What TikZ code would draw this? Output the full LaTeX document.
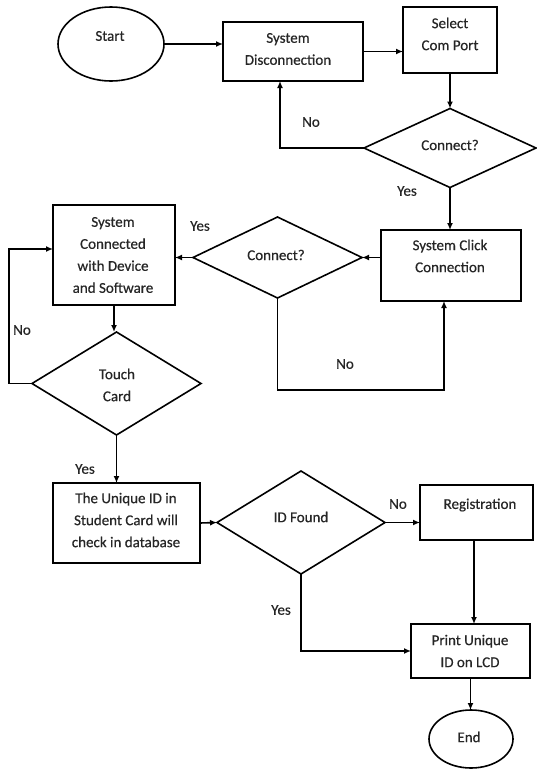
\documentclass[tikz,border=0pt]{standalone}
\usepackage{fontspec}
\setmainfont{Carlito}[FakeBold=0.5]
\usetikzlibrary{shapes.geometric,arrows.meta,calc}
\begin{document}
\begin{tikzpicture}[x=1pt,y=-1pt,
  every node/.style={font=\fontsize{15}{22}\selectfont},
  box/.style={draw, line width=1.6pt, rectangle, inner sep=0pt, outer sep=0pt},
  dia/.style={draw, line width=1.6pt, diamond, inner sep=0pt, outer sep=0pt},
  oval/.style={draw, line width=1.6pt, ellipse, inner sep=0pt, outer sep=0pt},
  txt/.style={align=center, inner sep=0pt, text=black!85},
  lab/.style={inner sep=0pt, text=black!85},
  conn/.style={line width=1.6pt, -{Latex[length=7pt,width=6pt]}}]
\useasboundingbox (0,0) rectangle (536,769);
% shapes
\node[oval, minimum width=106pt, minimum height=74pt] (start) at (111,44) {};
\node[box, minimum width=140pt, minimum height=59pt] (sd) at (293,51.5) {};
\node[box, minimum width=94pt, minimum height=66pt] (sel) at (450,40) {};
\node[dia, minimum width=172pt, minimum height=79pt] (d1) at (450,148) {};
\node[box, minimum width=140pt, minimum height=71pt] (sc) at (451,265.5) {};
\node[dia, minimum width=169pt, minimum height=81pt] (d2) at (277.5,257.5) {};
\node[box, minimum width=122pt, minimum height=100pt] (scon) at (114,255) {};
\node[dia, minimum width=169pt, minimum height=103pt] (touch) at (116.5,383.5) {};
\node[box, minimum width=147pt, minimum height=80pt] (id) at (126.5,523) {};
\node[dia, minimum width=168pt, minimum height=103pt] (d3) at (301,522.5) {};
\node[box, minimum width=113pt, minimum height=55pt] (reg) at (476.5,512.5) {};
\node[box, minimum width=119pt, minimum height=54pt] (print) at (470.5,651) {};
\node[oval, minimum width=84pt, minimum height=58pt] (end) at (471,739) {};
% texts
\node[txt] (start-t) at (110,36) {Start};
\node[txt] (sd-t) at (288,49) {System\\Disconnection};
\node[txt] (sel-t) at (450,34) {Select\\Com Port};
\node[txt] (d1-t) at (450,145) {Connect?};
\node[txt] (sc-t) at (450,256) {System Click\\Connection};
\node[txt] (d2-t) at (276,255) {Connect?};
\node[txt] (scon-t) at (113,255) {System\\Connected\\with Device\\and Software};
\node[txt] (touch-t) at (117,385) {Touch\\Card};
\node[txt] (id-t) at (126,520) {The Unique ID in\\Student Card will\\check in database};
\node[txt] (d3-t) at (301,517) {ID Found};
\node[txt] (reg-t) at (480,505) {Registration};
\node[txt] (print-t) at (470,651) {Print Unique\\ID on LCD};
\node[txt] (end-t) at (469,737) {End};
% labels
\node[lab] (l1) at (311,122) {No};
\node[lab] (l2) at (407,191) {Yes};
\node[lab] (l3) at (200,226) {Yes};
\node[lab] (l4) at (345,364) {No};
\node[lab] (l5) at (22,330) {No};
\node[lab] (l6) at (85,469) {Yes};
\node[lab] (l7) at (398,504) {No};
\node[lab] (l8) at (281,610) {Yes};
% connectors
\draw[conn] (start.east) -- (start.east -| sd.west);
\draw[conn] (sd.east) -- (sd.east -| sel.west);
\draw[conn] (sel.south) -- (sel.south |- d1.north);
\draw[conn] (d1.west) -| ([xshift=57pt]sd.south west);
\draw[conn] (d1.south) -- (d1.south |- sc.north);
\draw[conn] (sc.west |- d2.east) -- (d2.east);
\draw[conn] (d2.west) -- (d2.west -| scon.east);
\draw[conn] (d2.south) -- ++(0,92) -| ([xshift=-7pt]sc.south);
\draw[conn] (scon.south) -- (scon.south |- touch.north);
\draw[conn] (touch.west) -- ++(-23,0) |- ([yshift=6pt]scon.west);
\draw[conn] (touch.south) -- (touch.south |- id.north);
\draw[conn] (id.east) -- (d3.west);
\draw[conn] (d3.east) -- (d3.east -| reg.west);
\draw[conn] ([xshift=-2.5pt]reg.south) -- ([xshift=-2.5pt]reg.south |- print.north);
\draw[conn] (d3.south) |- (print.west);
\draw[conn] (print.south) -- (print.south |- end.north);
\end{tikzpicture}
\end{document}
